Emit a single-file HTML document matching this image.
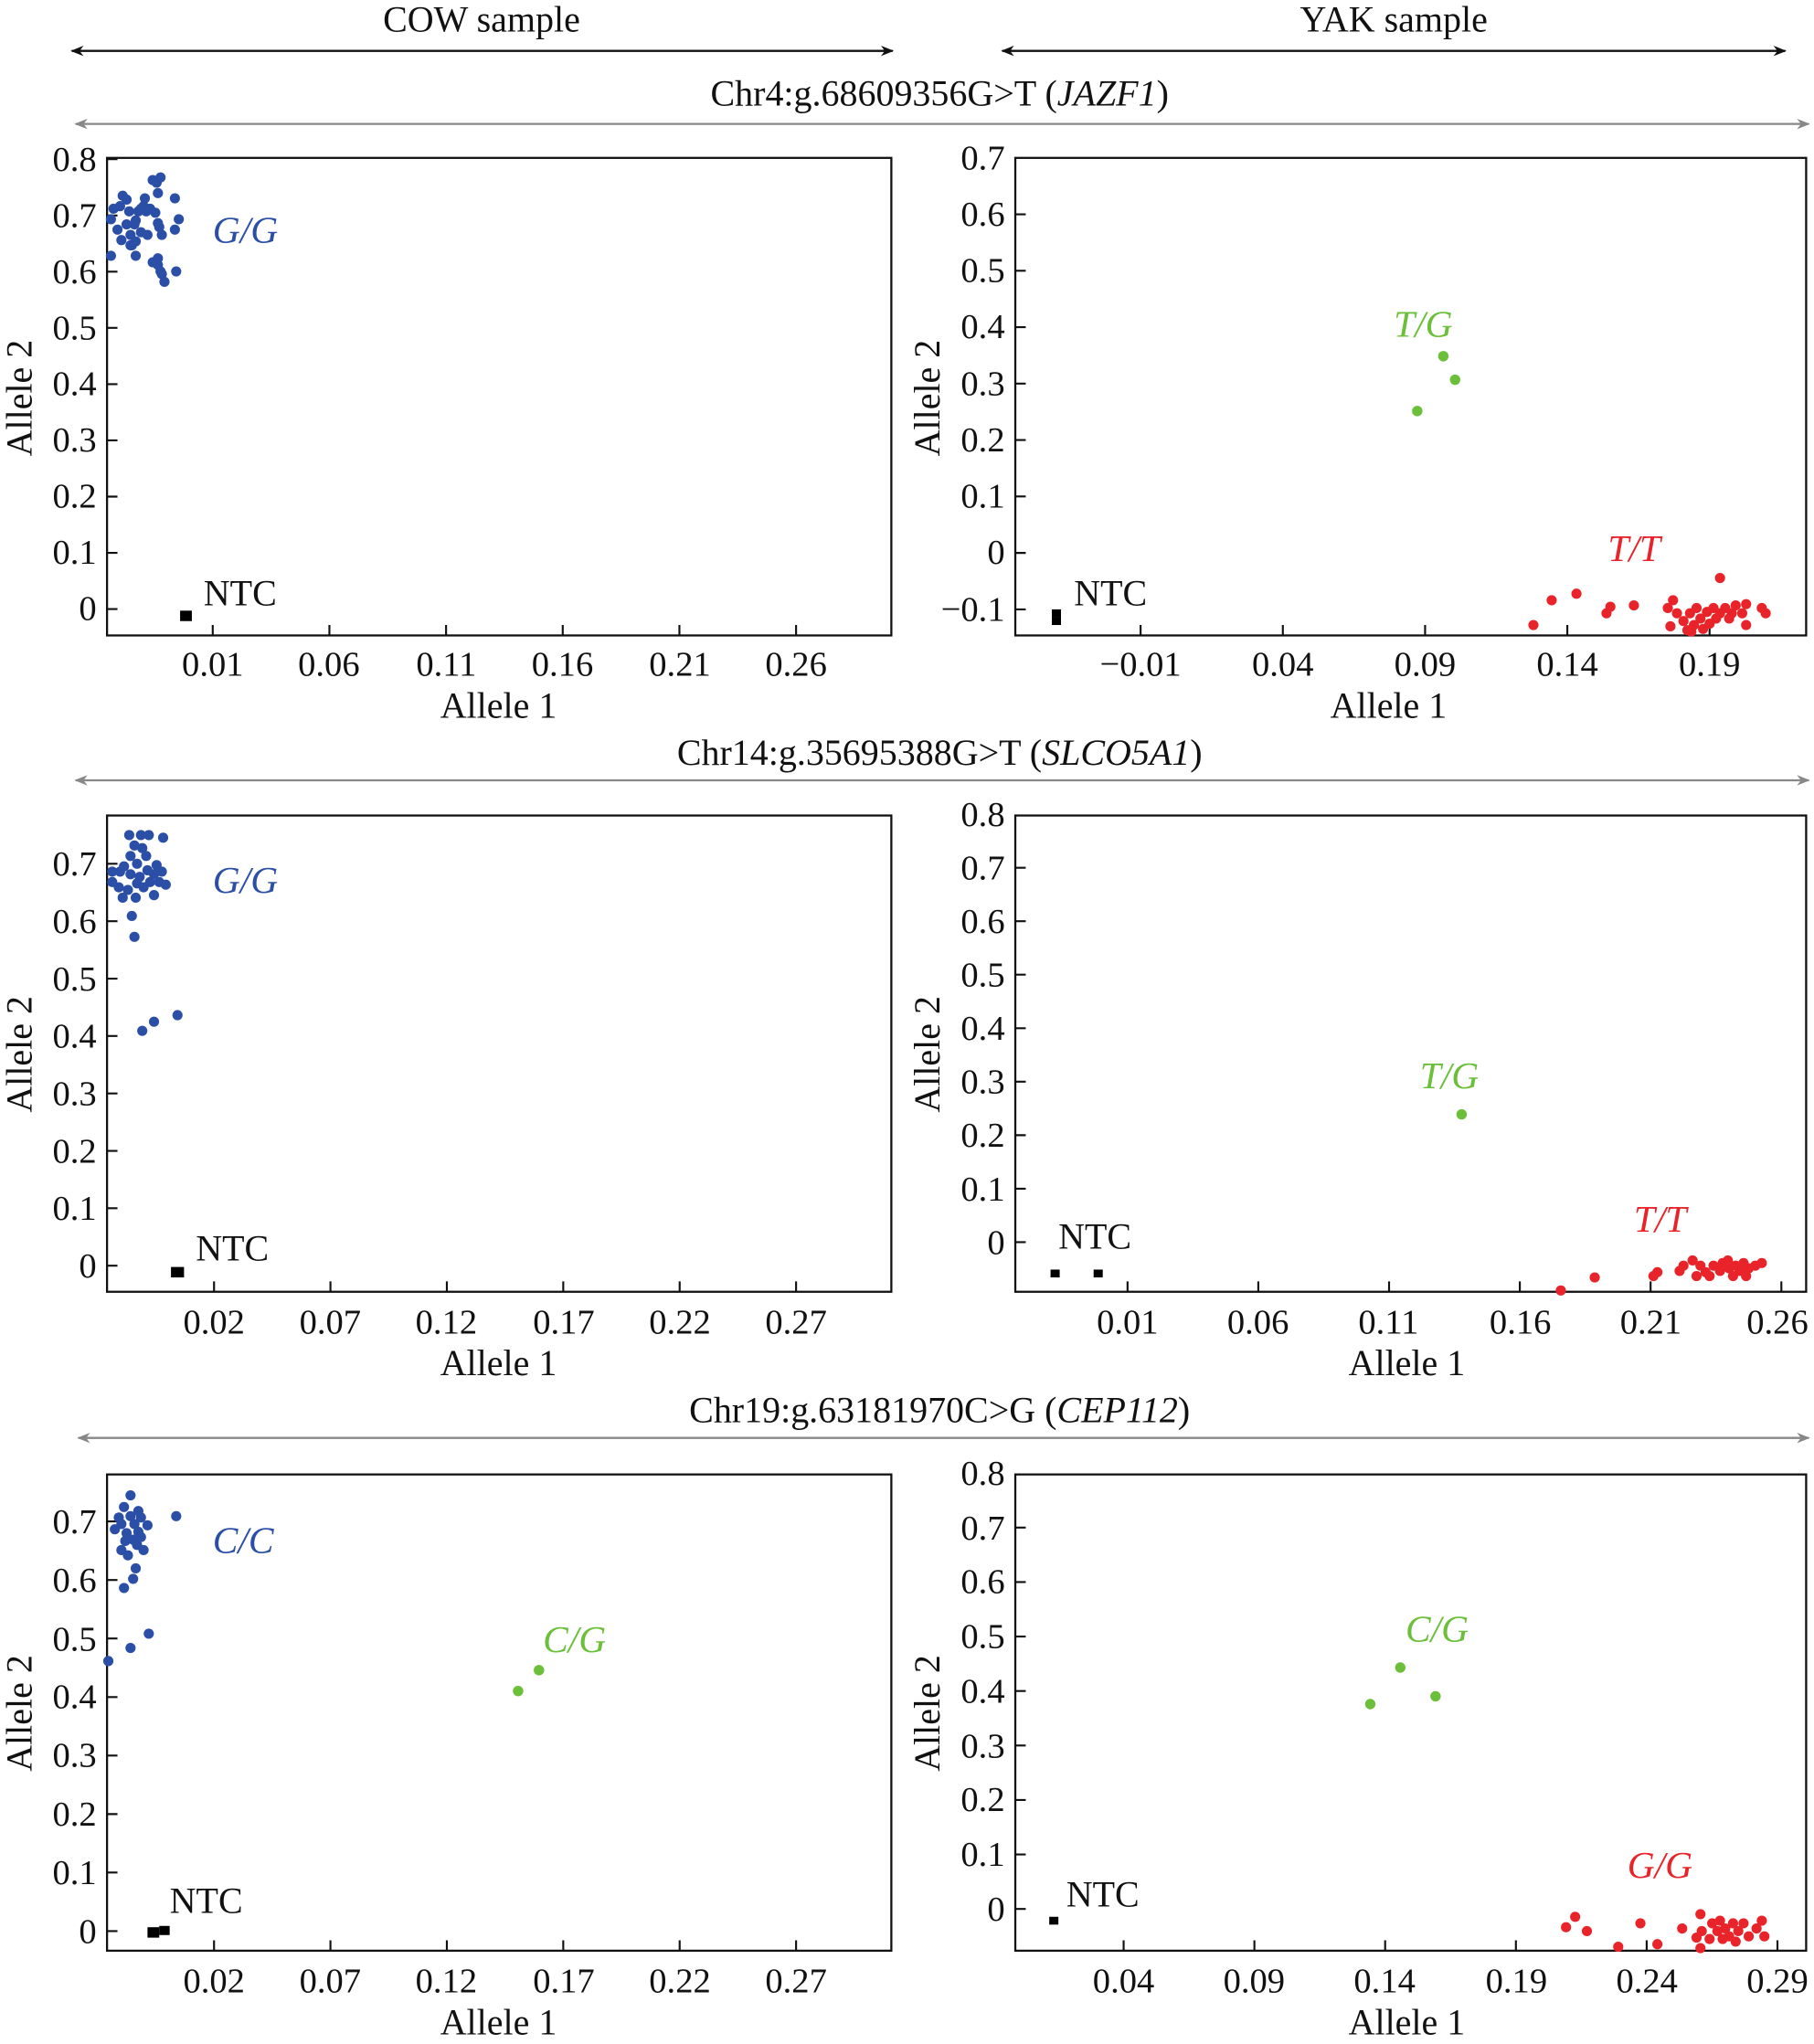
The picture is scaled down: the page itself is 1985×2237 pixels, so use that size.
<!DOCTYPE html>
<html><head><meta charset="utf-8"><style>
html,body{margin:0;padding:0;background:#fff;}
svg{display:block;font-family:"Liberation Serif","DejaVu Serif",serif;}
svg text{font-family:"Liberation Serif","DejaVu Serif",serif;fill:#111;}
.t{font-size:28px;}
.yl{font-size:27px;text-anchor:end;}
.xl{font-size:27px;text-anchor:middle;}
.ax{font-size:28px;text-anchor:middle;}
.it{font-style:italic;font-size:29px;}
</style></head><body>
<svg width="1985" height="2237" viewBox="0 0 1390 1566.5" xmlns="http://www.w3.org/2000/svg" font-family="Liberation Serif, serif">
<defs>
<marker id="ab" viewBox="0 0 10 10" refX="9" refY="5" markerWidth="10" markerHeight="10" orient="auto-start-reverse" markerUnits="userSpaceOnUse"><path d="M0,1 L10,5 L0,9 L3,5 z" fill="#111"/></marker>
<marker id="ag" viewBox="0 0 10 10" refX="9" refY="5" markerWidth="10" markerHeight="10" orient="auto-start-reverse" markerUnits="userSpaceOnUse"><path d="M0,1 L10,5 L0,9 L3,5 z" fill="#888"/></marker>
</defs>
<text class="ax" x="369" y="24">COW sample</text>
<text class="ax" x="1068" y="24">YAK sample</text>
<line x1="55" y1="39" x2="684" y2="39" stroke="#111" stroke-width="1.6" marker-start="url(#ab)" marker-end="url(#ab)"/>
<line x1="768" y1="39" x2="1368" y2="39" stroke="#111" stroke-width="1.6" marker-start="url(#ab)" marker-end="url(#ab)"/>

<text class="ax" x="720" y="81">Chr4:g.68609356G&gt;T (<tspan font-style="italic">JAZF1</tspan>)</text>
<line x1="58" y1="95" x2="1386" y2="95" stroke="#888" stroke-width="1.6" marker-start="url(#ag)" marker-end="url(#ag)"/>
<text class="ax" x="720" y="586">Chr14:g.35695388G&gt;T (<tspan font-style="italic">SLCO5A1</tspan>)</text>
<line x1="58" y1="598" x2="1386" y2="598" stroke="#888" stroke-width="1.6" marker-start="url(#ag)" marker-end="url(#ag)"/>
<text class="ax" x="720" y="1090">Chr19:g.63181970C&gt;G (<tspan font-style="italic">CEP112</tspan>)</text>
<line x1="60" y1="1102" x2="1386" y2="1102" stroke="#888" stroke-width="1.6" marker-start="url(#ag)" marker-end="url(#ag)"/>

<g fill="none" stroke="#111" stroke-width="1.6">
<rect x="82" y="121" width="601" height="366"/>
<rect x="778" y="121" width="606" height="366"/>
<rect x="82" y="625" width="601" height="365"/>
<rect x="778" y="625" width="606" height="365"/>
<rect x="82" y="1130" width="601" height="365"/>
<rect x="778" y="1130" width="606" height="365"/>
</g>
<g stroke="#111" stroke-width="1.5">
<path d="M82 122h8M82 165.1h8M82 208.2h8M82 251.3h8M82 294.4h8M82 337.5h8M82 380.6h8M82 423.7h8M82 466.8h8"/>
<path d="M163 487v-8M252.4 487v-8M341.8 487v-8M431.2 487v-8M520.6 487v-8M610 487v-8"/>
<path d="M778 164.25h8M778 207.5h8M778 250.75h8M778 294h8M778 337.25h8M778 380.5h8M778 423.75h8M778 467h8"/>
<path d="M874 487v-8M983 487v-8M1092 487v-8M1201 487v-8M1310 487v-8"/>
<path d="M82 662h8M82 706h8M82 750h8M82 794h8M82 838h8M82 882h8M82 926h8M82 970h8"/>
<path d="M164 990v-8M253.2 990v-8M342.4 990v-8M431.6 990v-8M520.8 990v-8M610 990v-8"/>
<path d="M778 665h8M778 706h8M778 747h8M778 788h8M778 829h8M778 870h8M778 911h8M778 952h8"/>
<path d="M864 990v-8M964.2 990v-8M1064.4 990v-8M1164.6 990v-8M1264.8 990v-8M1365 990v-8"/>
<path d="M82 1166h8M82 1210.9h8M82 1255.7h8M82 1300.6h8M82 1345.4h8M82 1390.3h8M82 1435.1h8M82 1480h8"/>
<path d="M164 1495v-8M253.2 1495v-8M342.4 1495v-8M431.6 1495v-8M520.8 1495v-8M610 1495v-8"/>
<path d="M778 1170.75h8M778 1212.5h8M778 1254.25h8M778 1296h8M778 1337.75h8M778 1379.5h8M778 1421.25h8M778 1463h8"/>
<path d="M861 1495v-8M961.2 1495v-8M1061.4 1495v-8M1161.6 1495v-8M1261.8 1495v-8M1362 1495v-8"/>
</g>

<text class="yl" x="74" y="131">0.8</text><text class="yl" x="74" y="174">0.7</text><text class="yl" x="74" y="217">0.6</text><text class="yl" x="74" y="260">0.5</text><text class="yl" x="74" y="303">0.4</text><text class="yl" x="74" y="346">0.3</text><text class="yl" x="74" y="389">0.2</text><text class="yl" x="74" y="432">0.1</text><text class="yl" x="74" y="475">0</text>
<text class="xl" x="163" y="518">0.01</text><text class="xl" x="252" y="518">0.06</text><text class="xl" x="342" y="518">0.11</text><text class="xl" x="431" y="518">0.16</text><text class="xl" x="521" y="518">0.21</text><text class="xl" x="610" y="518">0.26</text>
<text class="ax" x="382" y="550">Allele 1</text>
<text class="ax" transform="translate(24,305) rotate(-90)">Allele 2</text>
<text class="yl" x="770" y="130">0.7</text><text class="yl" x="770" y="173">0.6</text><text class="yl" x="770" y="216">0.5</text><text class="yl" x="770" y="259">0.4</text><text class="yl" x="770" y="303">0.3</text><text class="yl" x="770" y="346">0.2</text><text class="yl" x="770" y="389">0.1</text><text class="yl" x="770" y="432">0</text><text class="yl" x="770" y="476">−0.1</text>
<text class="xl" x="874" y="518">−0.01</text><text class="xl" x="983" y="518">0.04</text><text class="xl" x="1092" y="518">0.09</text><text class="xl" x="1201" y="518">0.14</text><text class="xl" x="1310" y="518">0.19</text>
<text class="ax" x="1064" y="550">Allele 1</text>
<text class="ax" transform="translate(720,305) rotate(-90)">Allele 2</text>
<text class="yl" x="74" y="671">0.7</text><text class="yl" x="74" y="715">0.6</text><text class="yl" x="74" y="759">0.5</text><text class="yl" x="74" y="803">0.4</text><text class="yl" x="74" y="847">0.3</text><text class="yl" x="74" y="891">0.2</text><text class="yl" x="74" y="935">0.1</text><text class="yl" x="74" y="979">0</text>
<text class="xl" x="164" y="1022">0.02</text><text class="xl" x="253" y="1022">0.07</text><text class="xl" x="342" y="1022">0.12</text><text class="xl" x="432" y="1022">0.17</text><text class="xl" x="521" y="1022">0.22</text><text class="xl" x="610" y="1022">0.27</text>
<text class="ax" x="382" y="1054">Allele 1</text>
<text class="ax" transform="translate(24,808) rotate(-90)">Allele 2</text>
<text class="yl" x="770" y="633">0.8</text><text class="yl" x="770" y="674">0.7</text><text class="yl" x="770" y="715">0.6</text><text class="yl" x="770" y="756">0.5</text><text class="yl" x="770" y="797">0.4</text><text class="yl" x="770" y="838">0.3</text><text class="yl" x="770" y="879">0.2</text><text class="yl" x="770" y="920">0.1</text><text class="yl" x="770" y="961">0</text>
<text class="xl" x="864" y="1022">0.01</text><text class="xl" x="964" y="1022">0.06</text><text class="xl" x="1064" y="1022">0.11</text><text class="xl" x="1165" y="1022">0.16</text><text class="xl" x="1265" y="1022">0.21</text><text class="xl" x="1362" y="1022">0.26</text>
<text class="ax" x="1078" y="1054">Allele 1</text>
<text class="ax" transform="translate(720,808) rotate(-90)">Allele 2</text>
<text class="yl" x="74" y="1175">0.7</text><text class="yl" x="74" y="1220">0.6</text><text class="yl" x="74" y="1265">0.5</text><text class="yl" x="74" y="1309">0.4</text><text class="yl" x="74" y="1354">0.3</text><text class="yl" x="74" y="1399">0.2</text><text class="yl" x="74" y="1444">0.1</text><text class="yl" x="74" y="1489">0</text>
<text class="xl" x="164" y="1527">0.02</text><text class="xl" x="253" y="1527">0.07</text><text class="xl" x="342" y="1527">0.12</text><text class="xl" x="432" y="1527">0.17</text><text class="xl" x="521" y="1527">0.22</text><text class="xl" x="610" y="1527">0.27</text>
<text class="ax" x="382" y="1559">Allele 1</text>
<text class="ax" transform="translate(24,1313) rotate(-90)">Allele 2</text>
<text class="yl" x="770" y="1138">0.8</text><text class="yl" x="770" y="1180">0.7</text><text class="yl" x="770" y="1221">0.6</text><text class="yl" x="770" y="1263">0.5</text><text class="yl" x="770" y="1305">0.4</text><text class="yl" x="770" y="1347">0.3</text><text class="yl" x="770" y="1388">0.2</text><text class="yl" x="770" y="1430">0.1</text><text class="yl" x="770" y="1472">0</text>
<text class="xl" x="861" y="1527">0.04</text><text class="xl" x="961" y="1527">0.09</text><text class="xl" x="1061" y="1527">0.14</text><text class="xl" x="1162" y="1527">0.19</text><text class="xl" x="1262" y="1527">0.24</text><text class="xl" x="1362" y="1527">0.29</text>
<text class="ax" x="1078" y="1559">Allele 1</text>
<text class="ax" transform="translate(720,1313) rotate(-90)">Allele 2</text>

<text class="it" x="163" y="186" style="fill:#2b4fa6">G/G</text>
<text class="t" x="156" y="464">NTC</text>
<text class="t" x="823" y="464">NTC</text>
<text class="it" x="1068" y="258" style="fill:#6bbf3a">T/G</text>
<text class="it" x="1232" y="430" style="fill:#e8242a">T/T</text>
<text class="it" x="163" y="684" style="fill:#2b4fa6">G/G</text>
<text class="t" x="150" y="966">NTC</text>
<text class="t" x="811" y="957">NTC</text>
<text class="it" x="1088" y="834" style="fill:#6bbf3a">T/G</text>
<text class="it" x="1252" y="944" style="fill:#e8242a">T/T</text>
<text class="it" x="163" y="1190" style="fill:#2b4fa6">C/C</text>
<text class="t" x="130" y="1466">NTC</text>
<text class="it" x="416" y="1266" style="fill:#6bbf3a">C/G</text>
<text class="t" x="817" y="1461">NTC</text>
<text class="it" x="1077" y="1258" style="fill:#6bbf3a">C/G</text>
<text class="it" x="1247" y="1439" style="fill:#e8242a">G/G</text>

<g fill="#000">
<rect x="138" y="468" width="9" height="8"/>
<rect x="806" y="467" width="7" height="6"/><rect x="806" y="473" width="7" height="6"/>
<rect x="131" y="971" width="10" height="8"/>
<rect x="805" y="973" width="7" height="6"/><rect x="838" y="973" width="7" height="6"/>
<rect x="113" y="1477" width="9" height="8"/><rect x="122" y="1476" width="8" height="7"/>
<rect x="804" y="1469" width="7" height="6"/>
</g>

<g fill="#2b4fa6">
<circle cx="85" cy="168" r="3.9"/><circle cx="87" cy="160" r="3.9"/><circle cx="92" cy="158" r="3.9"/><circle cx="90" cy="176" r="3.9"/><circle cx="93" cy="184" r="3.9"/><circle cx="97" cy="172" r="3.9"/><circle cx="99" cy="162" r="3.9"/><circle cx="103" cy="172" r="3.9"/><circle cx="101" cy="188" r="3.9"/><circle cx="104" cy="196" r="3.9"/><circle cx="100" cy="180" r="3.9"/><circle cx="85" cy="196" r="3.9"/><circle cx="94" cy="150" r="3.9"/><circle cx="97" cy="153" r="3.9"/><circle cx="100" cy="188" r="3.9"/><circle cx="104" cy="169" r="3.9"/><circle cx="106" cy="162" r="3.9"/><circle cx="108" cy="160" r="3.9"/><circle cx="110" cy="158" r="3.9"/><circle cx="111" cy="152" r="3.9"/><circle cx="112" cy="162" r="3.9"/><circle cx="115" cy="160" r="3.9"/><circle cx="113" cy="180" r="3.9"/><circle cx="117" cy="138" r="3.9"/><circle cx="120" cy="140" r="3.9"/><circle cx="123" cy="136" r="3.9"/><circle cx="121" cy="148" r="3.9"/><circle cx="119" cy="163" r="3.9"/><circle cx="121" cy="171" r="3.9"/><circle cx="122" cy="174" r="3.9"/><circle cx="124" cy="180" r="3.9"/><circle cx="121" cy="198" r="3.9"/><circle cx="117" cy="201" r="3.9"/><circle cx="121" cy="203" r="3.9"/><circle cx="123" cy="208" r="3.9"/><circle cx="124" cy="210" r="3.9"/><circle cx="126" cy="216" r="3.9"/><circle cx="134" cy="152" r="3.9"/><circle cx="134" cy="176" r="3.9"/><circle cx="137" cy="168" r="3.9"/><circle cx="135" cy="208" r="3.9"/><circle cx="104" cy="185" r="3.9"/><circle cx="108" cy="178" r="3.9"/>
<circle cx="99" cy="640" r="3.9"/><circle cx="108" cy="640" r="3.9"/><circle cx="114" cy="640" r="3.9"/><circle cx="125" cy="642" r="3.9"/><circle cx="103" cy="648" r="3.9"/><circle cx="109" cy="650" r="3.9"/><circle cx="100" cy="656" r="3.9"/><circle cx="112" cy="656" r="3.9"/><circle cx="105" cy="662" r="3.9"/><circle cx="95" cy="664" r="3.9"/><circle cx="120" cy="663" r="3.9"/><circle cx="86" cy="668" r="3.9"/><circle cx="92" cy="668" r="3.9"/><circle cx="100" cy="670" r="3.9"/><circle cx="107" cy="672" r="3.9"/><circle cx="113" cy="667" r="3.9"/><circle cx="118" cy="670" r="3.9"/><circle cx="124" cy="668" r="3.9"/><circle cx="86" cy="676" r="3.9"/><circle cx="91" cy="680" r="3.9"/><circle cx="98" cy="682" r="3.9"/><circle cx="105" cy="677" r="3.9"/><circle cx="110" cy="680" r="3.9"/><circle cx="115" cy="676" r="3.9"/><circle cx="122" cy="676" r="3.9"/><circle cx="127" cy="678" r="3.9"/><circle cx="94" cy="688" r="3.9"/><circle cx="104" cy="688" r="3.9"/><circle cx="118" cy="686" r="3.9"/><circle cx="101" cy="702" r="3.9"/><circle cx="103" cy="718" r="3.9"/><circle cx="109" cy="790" r="3.9"/><circle cx="118" cy="783" r="3.9"/><circle cx="136" cy="778" r="3.9"/>
<circle cx="100" cy="1146" r="3.9"/><circle cx="95" cy="1155" r="3.9"/><circle cx="106" cy="1158" r="3.9"/><circle cx="91" cy="1163" r="3.9"/><circle cx="100" cy="1162" r="3.9"/><circle cx="108" cy="1163" r="3.9"/><circle cx="93" cy="1168" r="3.9"/><circle cx="103" cy="1168" r="3.9"/><circle cx="113" cy="1169" r="3.9"/><circle cx="88" cy="1172" r="3.9"/><circle cx="97" cy="1175" r="3.9"/><circle cx="106" cy="1174" r="3.9"/><circle cx="96" cy="1181" r="3.9"/><circle cx="102" cy="1180" r="3.9"/><circle cx="108" cy="1178" r="3.9"/><circle cx="93" cy="1188" r="3.9"/><circle cx="98" cy="1192" r="3.9"/><circle cx="105" cy="1184" r="3.9"/><circle cx="135" cy="1162" r="3.9"/><circle cx="104" cy="1202" r="3.9"/><circle cx="102" cy="1210" r="3.9"/><circle cx="95" cy="1217" r="3.9"/><circle cx="114" cy="1252" r="3.9"/><circle cx="100" cy="1263" r="3.9"/><circle cx="83" cy="1273" r="3.9"/><circle cx="110" cy="1188" r="3.9"/>
</g>
<g fill="#6bbf3a">
<circle cx="1106" cy="273" r="4"/><circle cx="1115" cy="291" r="4"/><circle cx="1086" cy="315" r="4"/>
<circle cx="1120" cy="854" r="4"/>
<circle cx="397" cy="1296" r="4"/><circle cx="413" cy="1280" r="4"/>
<circle cx="1073" cy="1278" r="4"/><circle cx="1050" cy="1306" r="4"/><circle cx="1100" cy="1300" r="4"/>
</g>
<g fill="#e8242a">
<circle cx="1175" cy="479" r="3.9"/><circle cx="1189" cy="460" r="3.9"/><circle cx="1208" cy="455" r="3.9"/><circle cx="1231" cy="470" r="3.9"/><circle cx="1234" cy="465" r="3.9"/><circle cx="1252" cy="464" r="3.9"/><circle cx="1278" cy="466" r="3.9"/><circle cx="1282" cy="460" r="3.9"/><circle cx="1285" cy="470" r="3.9"/><circle cx="1290" cy="476" r="3.9"/><circle cx="1295" cy="470" r="3.9"/><circle cx="1300" cy="466" r="3.9"/><circle cx="1293" cy="483" r="3.9"/><circle cx="1298" cy="479" r="3.9"/><circle cx="1303" cy="474" r="3.9"/><circle cx="1308" cy="469" r="3.9"/><circle cx="1313" cy="466" r="3.9"/><circle cx="1318" cy="443" r="3.9"/><circle cx="1318" cy="470" r="3.9"/><circle cx="1322" cy="466" r="3.9"/><circle cx="1327" cy="470" r="3.9"/><circle cx="1330" cy="464" r="3.9"/><circle cx="1335" cy="470" r="3.9"/><circle cx="1338" cy="463" r="3.9"/><circle cx="1350" cy="466" r="3.9"/><circle cx="1353" cy="470" r="3.9"/><circle cx="1338" cy="479" r="3.9"/><circle cx="1310" cy="478" r="3.9"/><circle cx="1305" cy="482" r="3.9"/><circle cx="1296" cy="484" r="3.9"/><circle cx="1280" cy="480" r="3.9"/><circle cx="1325" cy="474" r="3.9"/><circle cx="1315" cy="474" r="3.9"/>
<circle cx="1196" cy="989" r="3.9"/><circle cx="1222" cy="979" r="3.9"/><circle cx="1267" cy="978" r="3.9"/><circle cx="1270" cy="975" r="3.9"/><circle cx="1287" cy="974" r="3.9"/><circle cx="1297" cy="966" r="3.9"/><circle cx="1303" cy="970" r="3.9"/><circle cx="1307" cy="975" r="3.9"/><circle cx="1313" cy="970" r="3.9"/><circle cx="1318" cy="974" r="3.9"/><circle cx="1320" cy="968" r="3.9"/><circle cx="1325" cy="972" r="3.9"/><circle cx="1330" cy="970" r="3.9"/><circle cx="1333" cy="974" r="3.9"/><circle cx="1336" cy="968" r="3.9"/><circle cx="1340" cy="972" r="3.9"/><circle cx="1345" cy="970" r="3.9"/><circle cx="1350" cy="968" r="3.9"/><circle cx="1328" cy="978" r="3.9"/><circle cx="1338" cy="978" r="3.9"/><circle cx="1310" cy="978" r="3.9"/><circle cx="1300" cy="978" r="3.9"/><circle cx="1290" cy="970" r="3.9"/><circle cx="1324" cy="966" r="3.9"/>
<circle cx="1200" cy="1477" r="3.9"/><circle cx="1207" cy="1469" r="3.9"/><circle cx="1216" cy="1480" r="3.9"/><circle cx="1240" cy="1492" r="3.9"/><circle cx="1257" cy="1474" r="3.9"/><circle cx="1270" cy="1490" r="3.9"/><circle cx="1289" cy="1478" r="3.9"/><circle cx="1303" cy="1467" r="3.9"/><circle cx="1303" cy="1493" r="3.9"/><circle cx="1304" cy="1480" r="3.9"/><circle cx="1300" cy="1485" r="3.9"/><circle cx="1312" cy="1474" r="3.9"/><circle cx="1316" cy="1480" r="3.9"/><circle cx="1318" cy="1472" r="3.9"/><circle cx="1322" cy="1478" r="3.9"/><circle cx="1325" cy="1484" r="3.9"/><circle cx="1328" cy="1474" r="3.9"/><circle cx="1332" cy="1480" r="3.9"/><circle cx="1336" cy="1474" r="3.9"/><circle cx="1340" cy="1484" r="3.9"/><circle cx="1346" cy="1478" r="3.9"/><circle cx="1350" cy="1472" r="3.9"/><circle cx="1352" cy="1484" r="3.9"/><circle cx="1320" cy="1486" r="3.9"/><circle cx="1310" cy="1486" r="3.9"/><circle cx="1330" cy="1488" r="3.9"/>
</g>
</svg>
</body></html>
